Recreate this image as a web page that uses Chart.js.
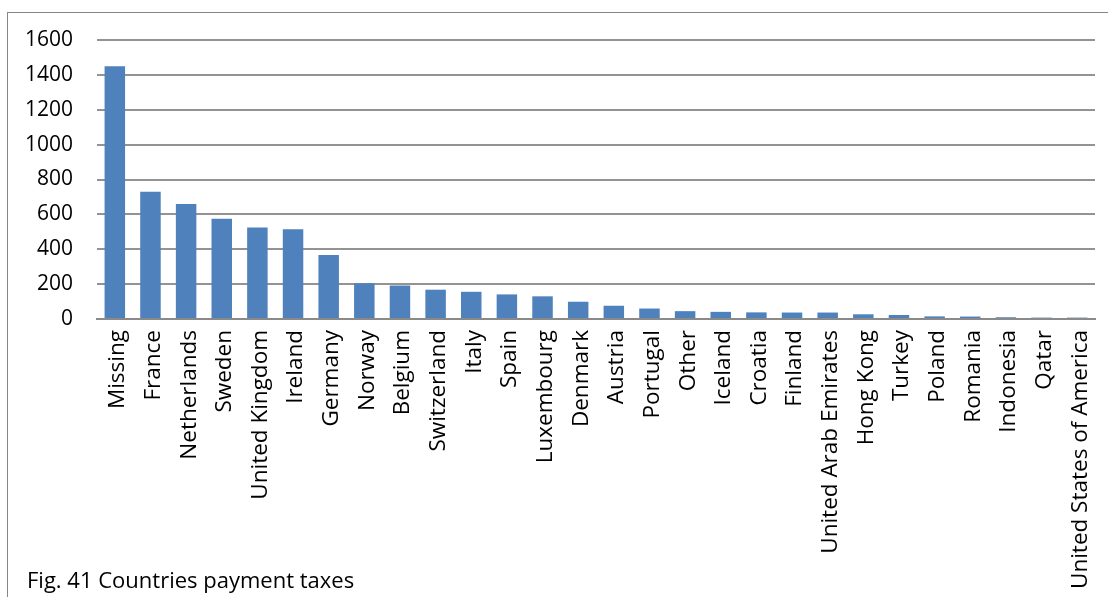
<!DOCTYPE html>
<html>
<head>
<meta charset="utf-8">
<script src="https://cdn.jsdelivr.net/npm/chart.js@4.4.0/dist/chart.umd.min.js"></script>
<style>
  html, body { margin: 0; padding: 0; background: #fff; }
  #wrap { position: relative; width: 1108px; height: 597px; overflow: hidden; }
  #frame { position: absolute; left: 7px; top: 12px; width: 1200px; height: 700px; border: 1px solid #868686; }
  #myChart { position: absolute; left: 0; top: 0; }
  #caption { position: absolute; left: 27px; top: 564px; font-family: "Open Sans", sans-serif; font-size: 22px; color: #000; white-space: nowrap; }
</style>
</head>
<body>
<div id="wrap">
  <div id="frame"></div>
  <canvas id="myChart" width="1108" height="597"></canvas>
  <div id="caption">Fig. 41 Countries payment taxes</div>
</div>
<script>
const countries = ['Missing', 'France', 'Netherlands', 'Sweden', 'United Kingdom', 'Ireland',
  'Germany', 'Norway', 'Belgium', 'Switzerland', 'Italy', 'Spain', 'Luxembourg', 'Denmark',
  'Austria', 'Portugal', 'Other', 'Iceland', 'Croatia', 'Finland', 'United Arab Emirates',
  'Hong Kong', 'Turkey', 'Poland', 'Romania', 'Indonesia', 'Qatar', 'United States of America'];
const payments = [1450, 730, 660, 575, 525, 515, 367, 205, 192, 168, 156, 141, 130, 99,
  76, 60, 45, 41, 38, 37, 37, 27, 23, 15, 14, 10, 8, 8];
const yTicks = [0, 200, 400, 600, 800, 1000, 1200, 1400, 1600];

new Chart(document.getElementById('myChart'), {
  type: 'bar',
  data: {
    labels: countries,
    datasets: [{
      data: payments,
      backgroundColor: '#4F81BD',
      barPercentage: 0.575,
      categoryPercentage: 1
    }]
  },
  options: {
    responsive: false,
    animation: false,
    layout: { padding: { top: 40, right: 13, left: 0, bottom: 0 } },
    plugins: { legend: { display: false }, tooltip: { enabled: false } },
    scales: {
      x: {
        grid: { display: false, drawTicks: false },
        border: { color: '#8a8a8a', width: 2 },
        ticks: {
          color: '#000', font: { family: 'Open Sans', size: 22.5 },
          minRotation: 90, maxRotation: 90, padding: 11, labelOffset: 3, autoSkip: false
        },
        afterFit: s => { s.height = 278; s.paddingLeft = 0; s.paddingRight = 0; }
      },
      y: {
        min: 0,
        max: 1600,
        afterBuildTicks: s => { s.ticks = yTicks.map(v => ({ value: v })); },
        grid: { color: '#939393', lineWidth: 2, drawTicks: false },
        border: { display: false },
        ticks: {
          color: '#000', font: { family: 'Open Sans', size: 21 }, padding: 24,
          callback: v => String(v)
        },
        afterFit: s => { s.width = 97; }
      }
    }
  }
});
</script>
</body>
</html>
